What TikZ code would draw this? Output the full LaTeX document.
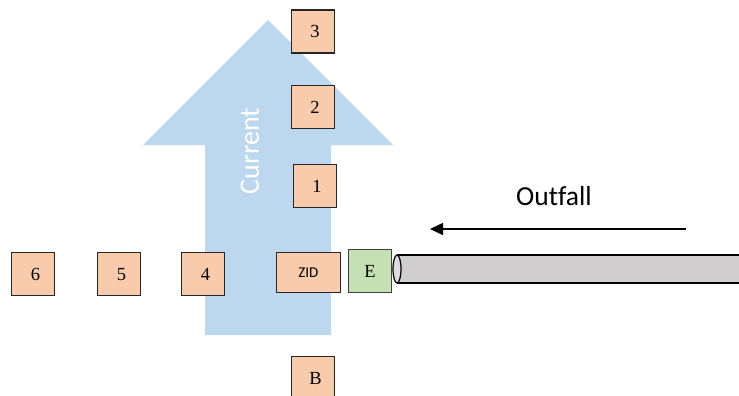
\documentclass[tikz,border=0pt]{standalone}
\usepackage{fontspec}
\setmainfont{Liberation Serif}
\newfontfamily\calib[Ligatures=NoCommon]{Carlito}
\usetikzlibrary{arrows.meta}
\definecolor{stationfill}{HTML}{F8CBAD}
\definecolor{endfill}{HTML}{C5E0B4}
\definecolor{currentfill}{HTML}{BDD7EE}
\definecolor{pipefill}{HTML}{D0CECE}
\tikzset{
  station/.style={draw=black!85, line width=1.1pt, fill=stationfill, anchor=north west,
    minimum width=43pt, minimum height=43pt, inner sep=0pt, font=\fontsize{18.5}{18.5}\selectfont},
  endbox/.style={station, fill=endfill, draw=black!75},
}
\begin{document}
\begin{tikzpicture}[x=1pt, y=-1pt]
\useasboundingbox (0,0) rectangle (739,396);
% current arrow
\fill[currentfill] (268,20) -- (393,145) -- (331,145) -- (331,335) -- (205,335)
  -- (205,145) -- (143,145) -- cycle;
\node[rotate=90, text=white, font=\calib\fontsize{28}{28}\selectfont] (cur) at (250,151) {Current};
% stations
\node[station] (s3) at (290.5,9.5) {\hspace*{5pt}3};
\node[station] (s2) at (290.5,85) {\hspace*{5pt}2};
\node[station] (s1) at (292.5,164) {\hspace*{5pt}1};
\node[station] (s6) at (11,252) {\hspace*{5pt}6};
\node[station] (s5) at (97,252) {\hspace*{5pt}5};
\node[station] (s4) at (181,252) {\hspace*{5pt}4};
\node[station, minimum width=63.5pt, minimum height=40pt, font=\calib\fontsize{15}{15}\selectfont] (zid) at (276,252) {ZID};
\node[endbox] (e) at (348,249) {E};
\node[station] (sb) at (291,356) {\hspace*{5pt}B};
% outfall pipe
\fill[pipefill] (397,255) rectangle (745,283);
\draw[line width=1.2pt] (397,255) -- (745,255) (397,283) -- (745,283);
\draw[line width=1.2pt, fill=pipefill!70!white] (397,269) ellipse [x radius=4pt, y radius=14pt];
% flow direction of the outfall
\coordinate (ostart) at (686,229);
\coordinate (oend) at (430,229);
\draw[line width=1.6pt, -{Triangle[length=13pt, width=12pt]}] (ostart) -- (oend);
\node[font=\calib\fontsize{27.5}{27.5}\selectfont] (out) at (554,196) {Outfall};
\end{tikzpicture}
\end{document}
